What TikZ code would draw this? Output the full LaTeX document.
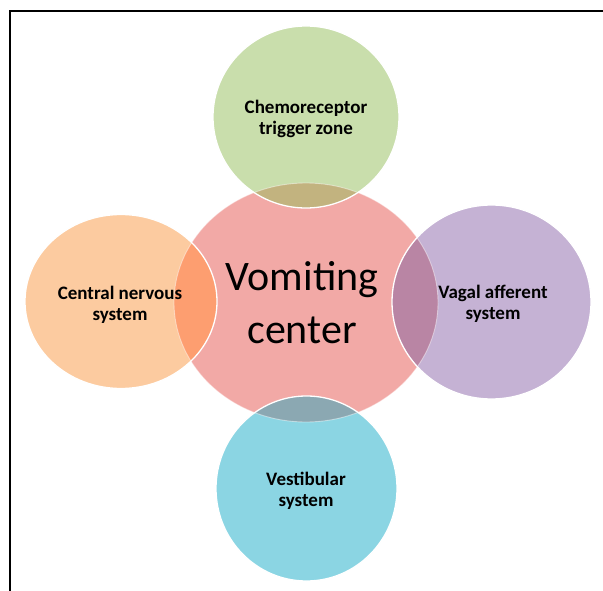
\documentclass[tikz,border=0pt]{standalone}
\usepackage{fontspec}
\setmainfont{Carlito}
\definecolor{cpink}{RGB}{242,169,166}
\definecolor{cgreen}{RGB}{201,222,172}
\definecolor{corange}{RGB}{252,203,160}
\definecolor{cpurple}{RGB}{197,178,212}
\definecolor{cblue}{RGB}{139,213,227}
\definecolor{ogreen}{RGB}{194,179,127}
\definecolor{oorange}{RGB}{253,158,112}
\definecolor{opurple}{RGB}{185,133,164}
\definecolor{oblue}{RGB}{139,168,178}
\tikzset{
  rim/.style={draw=white, line width=1.3pt},
  faintrim/.style={draw=white, draw opacity=0.45, line width=0.9pt},
  lbl/.style={font=\fontsize{19}{21}\selectfont\bfseries, align=center, inner sep=0pt, text=black},
  biglbl/.style={font=\fontsize{42}{53}\selectfont, align=center, inner sep=0pt, text=black}
}
\begin{document}
\begin{tikzpicture}[x=1pt,y=-1pt]
\useasboundingbox (0,0) rectangle (603,591);
% frame
\draw[line width=2pt] (10,591) -- (10,11) -- (603,11);
% fills
\fill[cpink] (306,302.5) ellipse [x radius=132, y radius=119.5];
\fill[cgreen] (306,117) ellipse [x radius=93, y radius=91];
\fill[corange] (121,301.5) ellipse [x radius=96, y radius=87];
\fill[cpurple] (491.5,302) ellipse [x radius=99.5, y radius=97];
\fill[cblue] (306.5,488.5) ellipse [x radius=90.5, y radius=92.5];
% overlaps
\begin{scope}
  \clip (306,302.5) ellipse [x radius=132, y radius=119.5];
  \fill[ogreen] (306,117) ellipse [x radius=93, y radius=91];
  \fill[oorange] (121,301.5) ellipse [x radius=96, y radius=87];
  \fill[opurple] (491.5,302) ellipse [x radius=99.5, y radius=97];
  \fill[oblue] (306.5,488.5) ellipse [x radius=90.5, y radius=92.5];
\end{scope}
% outlines
\path[faintrim] (306,302.5) ellipse [x radius=132, y radius=119.5];
\path[rim] (306,117) ellipse [x radius=93, y radius=91];
\path[rim] (121,301.5) ellipse [x radius=96, y radius=87];
\path[rim] (491.5,302) ellipse [x radius=99.5, y radius=97];
\path[rim] (306.5,488.5) ellipse [x radius=90.5, y radius=92.5];
% labels
\node[biglbl] (vc) at (302,303) {Vomiting\\center};
\node[lbl] (ctz) at (306,119) {Chemoreceptor\\trigger zone};
\node[lbl] (cns) at (120,304.5) {Central nervous\\system};
\node[lbl] (vas) at (493,303.5) {Vagal afferent\\system};
\node[lbl] (ves) at (306,490.5) {Vestibular\\system};
\end{tikzpicture}
\end{document}
